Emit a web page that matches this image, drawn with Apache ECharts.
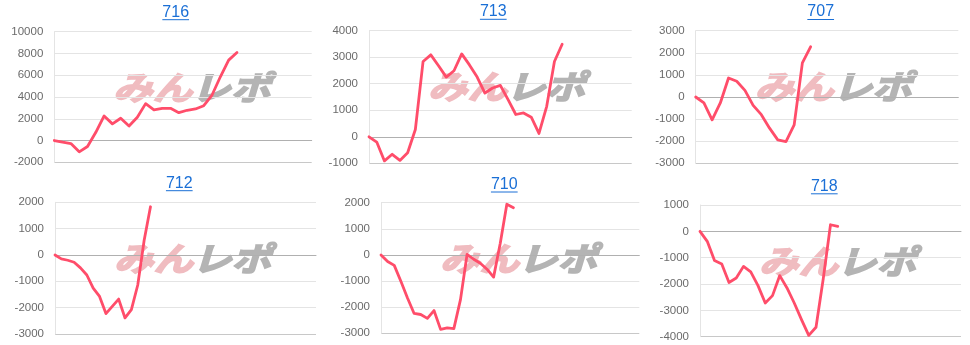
<!DOCTYPE html>
<html><head><meta charset="utf-8">
<script src="https://cdn.jsdelivr.net/npm/echarts@6/dist/echarts.min.js"></script>
<style>html,body{margin:0;padding:0;background:#fff}#c{width:970px;height:345px}</style>
</head><body><div id="c"></div>
<script>
// ---- data ----
const titles = ['716', '713', '707', '712', '710', '718'];
const s716 = [0, -150, -280, -1040, -550, 760, 2260, 1530, 2050, 1340, 2140, 3390, 2810, 2960, 2960, 2560, 2780, 2900, 3200, 4180, 5860, 7390, 8090];
const s713 = [0, -200, -910, -660, -890, -600, 275, 2840, 3090, 2680, 2250, 2490, 3125, 2710, 2250, 1650, 1840, 1940, 1400, 840, 900, 740, 125, 1150, 2840, 3490];
const s707 = [0, -270, -1030, -270, 860, 710, 300, -380, -800, -1410, -1940, -2020, -1260, 1545, 2270];
const s712 = [0, -150, -200, -275, -490, -760, -1260, -1575, -2225, -1950, -1675, -2390, -2075, -1140, 550, 1830];
const s710 = [0, -250, -400, -1010, -1650, -2240, -2280, -2430, -2130, -2850, -2790, -2820, -1710, 25, -165, -320, -545, -850, 440, 1940, 1810];
const s718 = [0, -380, -1110, -1240, -1940, -1770, -1330, -1540, -2060, -2720, -2440, -1680, -2150, -2720, -3350, -3950, -3640, -1800, 250, 190];
const seriesData = [s716, s713, s707, s712, s710, s718];
const yMin = [-2000, -1000, -3000, -3000, -3000, -4000];
const yMax = [10000, 4000, 3000, 2000, 2000, 1000];
const yStep = [2000, 1000, 1000, 1000, 1000, 1000];
const slotCount = [32, 35, 33, 42, 40, 37];

// ---- layout ----
const panels = [
  {left: 54.3, top: 31.7, width: 257.4, height: 130.6, tx: 175.7, ty: 12.2},
  {left: 369, top: 30.7, width: 262.7, height: 132.6, tx: 493.3, ty: 11.8},
  {left: 695.7, top: 30.7, width: 262.6, height: 132.6, tx: 820.7, ty: 12},
  {left: 55, top: 202.3, width: 261, height: 131.7, tx: 179.3, ty: 183.2},
  {left: 381, top: 202.7, width: 258.3, height: 130.6, tx: 504.3, ty: 184.5},
  {left: 700, top: 205, width: 261, height: 131.7, tx: 824.3, ty: 186.3}
];

const LINE = '#ff4d6a';
const BLUE = '#1a6fd6';
const FONT = 'Arial, "Liberation Sans", sans-serif';
const WM_FONT = 'italic bold 33px "Noto Sans CJK JP"';

const ctx = document.createElement('canvas').getContext('2d');
ctx.font = '16px ' + FONT;

const grid = [], xAxis = [], yAxis = [], series = [], graphic = [];
panels.forEach((p, i) => {
  grid.push({left: p.left, top: p.top, width: p.width, height: p.height, containLabel: false});
  const cats = Array.from({length: slotCount[i]}, (_, k) => String(k + 1));
  xAxis.push({
    type: 'category', gridIndex: i, data: cats, boundaryGap: false,
    axisLabel: {show: false}, axisTick: {show: false}, splitLine: {show: false},
    axisLine: {show: true, onZero: true, lineStyle: {color: '#b0b0b0', width: 1}}
  });
  const nLines = Math.round((yMax[i] - yMin[i]) / yStep[i]) + 1;
  const splitColors = ['#c8c8c8'].concat(Array(nLines).fill('#e4e4e4'));
  yAxis.push({
    type: 'value', gridIndex: i, min: yMin[i], max: yMax[i], interval: yStep[i],
    axisLine: {show: true, lineStyle: {color: '#e4e4e4'}},
    axisTick: {show: false},
    axisLabel: {color: '#6b6b6b', fontSize: 11.5, fontFamily: FONT, margin: 11, formatter: v => String(v)},
    splitLine: {show: true, lineStyle: {color: splitColors, width: 1}}
  });
  series.push({
    type: 'line', xAxisIndex: i, yAxisIndex: i, data: seriesData[i],
    showSymbol: false, symbol: 'none', smooth: false, z: 3,
    lineStyle: {color: LINE, width: 2.8, join: 'round', cap: 'round'},
    silent: true, animation: false
  });
  // title
  graphic.push({
    type: 'text', x: p.tx, y: p.ty, z: 5,
    style: {text: titles[i], fill: BLUE, font: '16px ' + FONT, textAlign: 'center', textVerticalAlign: 'middle'}
  });
  const w = ctx.measureText(titles[i]).width;
  graphic.push({
    type: 'line', z: 5,
    shape: {x1: p.tx - w / 2, y1: p.ty + 7.5, x2: p.tx + w / 2, y2: p.ty + 7.5},
    style: {stroke: BLUE, lineWidth: 1}
  });
  // watermark
  const wy = p.top + 56;
  graphic.push({
    type: 'text', x: p.left + 138, y: wy, z: -1, scaleX: 1.2,
    style: {text: 'みん', fill: '#f0bcc0', stroke: '#f0bcc0', lineWidth: 1.6, font: WM_FONT, textAlign: 'right', textVerticalAlign: 'middle'}
  });
  graphic.push({
    type: 'text', x: p.left + 137, y: wy, z: -1, scaleX: 1.2,
    style: {text: 'レポ', fill: '#b4b4b4', stroke: '#b4b4b4', lineWidth: 1.6, font: WM_FONT, textAlign: 'left', textVerticalAlign: 'middle'}
  });
});

const chart = echarts.init(document.getElementById('c'), null, {renderer: 'canvas'});
chart.setOption({
  animation: false,
  backgroundColor: '#fff',
  grid, xAxis, yAxis, series, graphic
});
</script>
</body></html>
